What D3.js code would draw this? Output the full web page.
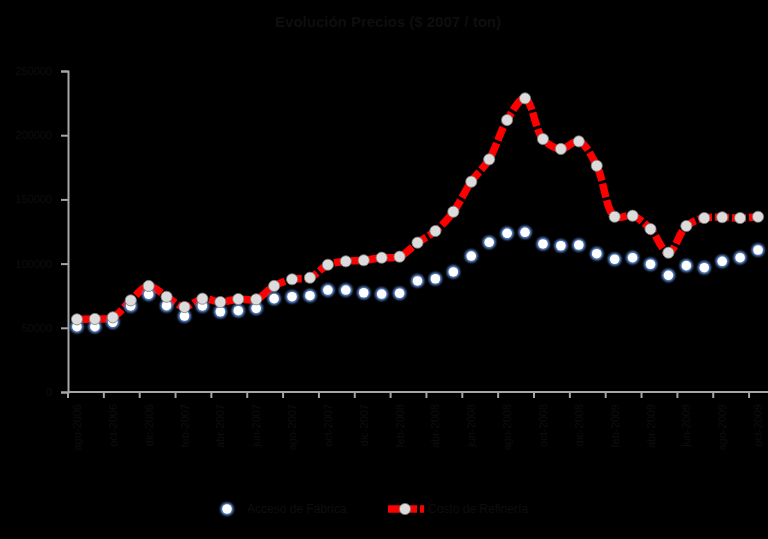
<!DOCTYPE html>
<html>
<head>
<meta charset="utf-8">
<script src="https://cdn.jsdelivr.net/npm/d3@7"></script>
<style>
  html, body { margin: 0; padding: 0; background: #000; }
  svg { display: block; font-family: "Liberation Sans", Arial, sans-serif; }
</style>
</head>
<body>
<svg id="chart" width="768" height="539"></svg>
<script>
// ---- data ----
const categories = [
  "ago-2006","sep-2006","oct-2006","nov-2006","dic-2006",
  "ene-2007","feb-2007","mar-2007","abr-2007","may-2007","jun-2007","jul-2007",
  "ago-2007","sep-2007","oct-2007","nov-2007","dic-2007",
  "ene-2008","feb-2008","mar-2008","abr-2008","may-2008","jun-2008","jul-2008",
  "ago-2008","sep-2008","oct-2008","nov-2008","dic-2008",
  "ene-2009","feb-2009","mar-2009","abr-2009","may-2009","jun-2009","jul-2009",
  "ago-2009","sep-2009","oct-2009"
];
const accesoValues = [
  50900, 50900, 54300, 67000, 76100, 67200, 59200, 67000, 62500, 63300,
  65200, 72700, 74200, 75000, 79400, 79400, 77300, 76300, 76900, 86500,
  88200, 93500, 105900, 116600, 123600, 124400, 115300, 113900, 114500, 107700,
  103400, 104600, 99500, 90900, 98400, 96800, 101800, 104600, 110600
];
const costoValues = [
  56600, 56900, 58200, 71400, 82600, 74200, 66200, 72700, 70100, 72400,
  72200, 82600, 87800, 89000, 99100, 101800, 102600, 104600, 105400, 116300,
  125400, 140400, 163800, 181200, 211800, 228700, 197000, 189300, 195200, 176200,
  136500, 137300, 126900, 108500, 129300, 135500, 136100, 135500, 136500
];
const yTicks = [0, 50000, 100000, 150000, 200000, 250000];
const seriesNames = ["Acceso de Fábrica", "Costo de Refinería"];
const titleText = "Evolución Precios ($ 2007 / ton)";

// ---- layout ----
const svg = d3.select("#chart");
const pLeft = 68, pRight = 767, pTop = 71, pBottom = 392;
const textColor = "#0e0e0e";
const axisColor = "#a6a6a6";

svg.append("rect").attr("width", 768).attr("height", 539).attr("fill", "#000");

const x = d3.scaleBand().domain(categories).range([pLeft, pRight]).padding(0);
const y = d3.scaleLinear().domain([0, 250000]).range([pBottom, pTop]);
const cx = c => x(c) + x.bandwidth() / 2;

// glow filter for blue markers
const defs = svg.append("defs");
const f = defs.append("filter").attr("id", "glow").attr("x", "-60%").attr("y", "-60%").attr("width", "220%").attr("height", "220%");
f.append("feGaussianBlur").attr("stdDeviation", 1.3);

// title
svg.append("text").attr("x", 388).attr("y", 27).attr("text-anchor", "middle")
  .attr("font-size", 15).attr("font-weight", "bold").attr("fill", textColor).text(titleText);

// y axis
const yAxis = svg.append("g").attr("transform", `translate(${pLeft},0)`)
  .call(d3.axisLeft(y).tickValues(yTicks).tickSize(7).tickPadding(9).tickFormat(d3.format("d")));
yAxis.select(".domain").attr("stroke", axisColor).attr("stroke-width", 2);
yAxis.selectAll(".tick line").attr("stroke", axisColor).attr("stroke-width", 2);
yAxis.selectAll(".tick text").attr("fill", textColor).attr("font-size", 11)
  .attr("font-family", "Liberation Sans, Arial, sans-serif");

// x axis
const tickCats = categories.filter((d, i) => i % 2 === 0);
const xAxisG = svg.append("g").attr("transform", `translate(0,${pBottom})`);
xAxisG.append("line").attr("x1", pLeft).attr("x2", 768).attr("y1", 0).attr("y2", 0)
  .attr("stroke", axisColor).attr("stroke-width", 2);
xAxisG.selectAll("line.tk").data(tickCats).join("line").attr("class", "tk")
  .attr("x1", d => x(d)).attr("x2", d => x(d)).attr("y1", 0).attr("y2", 6)
  .attr("stroke", axisColor).attr("stroke-width", 2);
xAxisG.selectAll("text.lbl").data(tickCats).join("text").attr("class", "lbl")
  .attr("transform", d => `translate(${cx(d) + 4},${12}) rotate(-90)`)
  .attr("text-anchor", "end").attr("font-size", 11).attr("fill", textColor).text(d => d);

// red line (Costo)
const line = d3.line().x((d, i) => cx(categories[i])).y(d => y(d)).curve(d3.curveCatmullRom.alpha(0.5));
svg.append("path").datum(costoValues).attr("d", line)
  .attr("fill", "none").attr("stroke", "#ff0000").attr("stroke-width", 7.5)
  .attr("stroke-dasharray", "14,3");

// blue markers (Acceso)
const blueG = svg.append("g");
blueG.selectAll("circle.halo").data(accesoValues).join("circle").attr("class", "halo")
  .attr("cx", (d, i) => cx(categories[i])).attr("cy", d => y(d)).attr("r", 6.6)
  .attr("fill", "#5b8ad6").attr("filter", "url(#glow)");
blueG.selectAll("circle.core").data(accesoValues).join("circle").attr("class", "core")
  .attr("cx", (d, i) => cx(categories[i])).attr("cy", d => y(d)).attr("r", 4.8)
  .attr("fill", "#ffffff");

// red series markers
svg.append("g").selectAll("circle").data(costoValues).join("circle")
  .attr("cx", (d, i) => cx(categories[i])).attr("cy", d => y(d)).attr("r", 5.6)
  .attr("fill", "#dcdcdc").attr("stroke", "#7a7a7a").attr("stroke-width", 0.8);

// legend
const lg = svg.append("g");
lg.append("circle").attr("cx", 227).attr("cy", 509).attr("r", 6.6).attr("fill", "#5b8ad6").attr("filter", "url(#glow)");
lg.append("circle").attr("cx", 227).attr("cy", 509).attr("r", 4.8).attr("fill", "#fff");
lg.append("text").attr("x", 247).attr("y", 513).attr("font-size", 12).attr("fill", textColor).text(seriesNames[0]);
lg.append("line").attr("x1", 388).attr("x2", 424).attr("y1", 509).attr("y2", 509)
  .attr("stroke", "#ff0000").attr("stroke-width", 7.5).attr("stroke-dasharray", "13,3");
lg.append("circle").attr("cx", 405).attr("cy", 509).attr("r", 5.6).attr("fill", "#dcdcdc").attr("stroke", "#7a7a7a").attr("stroke-width", 0.8);
lg.append("text").attr("x", 428).attr("y", 513).attr("font-size", 12).attr("fill", textColor).text(seriesNames[1]);
</script>
</body>
</html>
